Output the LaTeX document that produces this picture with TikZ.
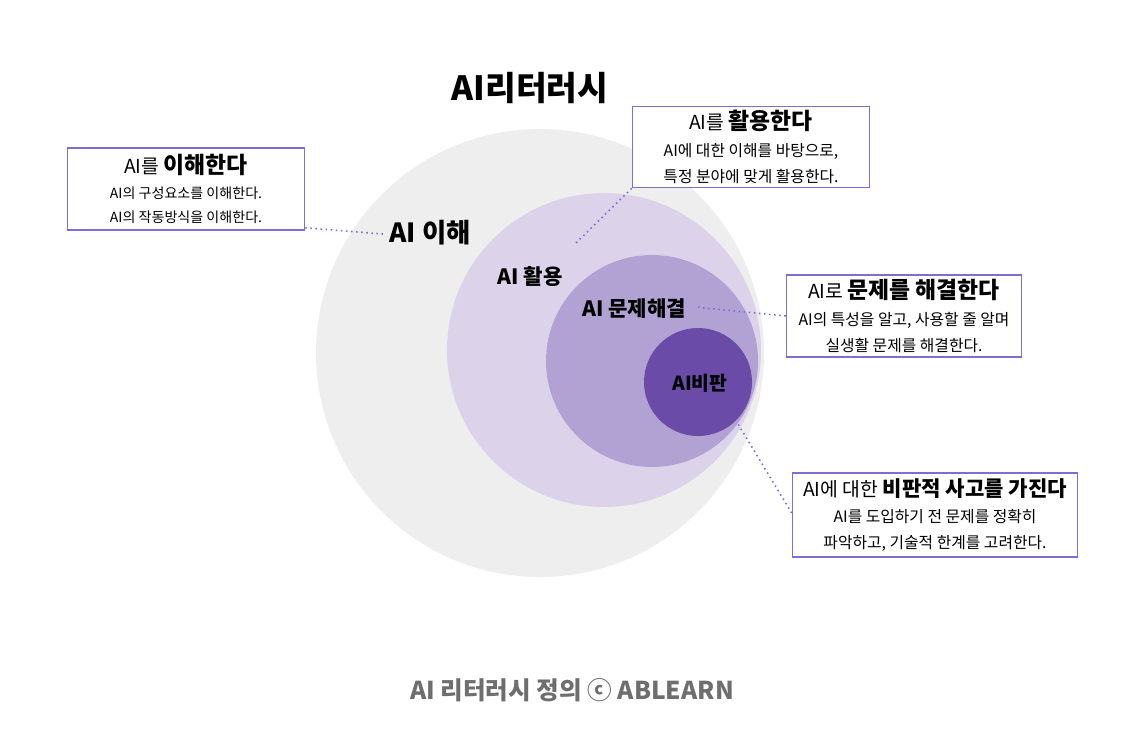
\documentclass[tikz,border=0pt]{standalone}
\usepackage{fontspec}
\setmainfont{Noto Sans CJK KR}
\definecolor{ringgray}{HTML}{EEEEEE}
\definecolor{ringlight}{HTML}{DCD3EA}
\definecolor{ringmid}{HTML}{B1A2D3}
\definecolor{ringdark}{HTML}{6A4BA8}
\definecolor{boxline}{HTML}{7B6FD6}
\definecolor{footgray}{HTML}{6E6E6E}
\begin{document}
\begin{tikzpicture}[x=0.02cm, y=-0.02cm,
  ring/.style={circle, draw=none, inner sep=0pt, minimum size={#1*0.02cm}},
  infobox/.style 2 args={draw=boxline, line width=0.9pt, fill=white, align=center, inner sep=0pt,
    minimum width={#1*0.02cm}, minimum height={#2*0.02cm}},
  lead/.style={draw=boxline, dotted, line width=0.9pt},
  ringlabel/.style={font=\bfseries}]
\useasboundingbox (0,0) rectangle (1145,738);

\node[ring=448, fill=ringgray] (cUse) at (540,353) {};
\node[ring=314, fill=ringlight] (cApply) at (604,350) {};
\node[ring=212, fill=ringmid] (cSolve) at (652,361) {};
\node[ring=108, fill=ringdark] (cCrit) at (698,382) {};

\node[font=\bfseries\fontsize{19}{22}\selectfont] (title) at (530,88) {AI리터러시};
\node[font=\fontsize{15}{18}\selectfont\bfseries] (lUse) at (430,233) {AI 이해};
\node[font=\fontsize{12}{14}\selectfont\bfseries] (lApply) at (530,277) {AI 활용};
\node[font=\fontsize{12}{14}\selectfont\bfseries] (lSolve) at (634,309) {AI 문제해결};
\node[font=\fontsize{11}{13}\selectfont\bfseries] (lCrit) at (700,383) {AI비판};

\node[infobox={237}{82}, font=\fontsize{8}{14}\selectfont] (bUse) at (186,189)
  {{\fontsize{11}{16}\selectfont AI를 \textbf{\fontsize{13}{16}\selectfont 이해한다}}\\AI의 구성요소를 이해한다.\\AI의 작동방식을 이해한다.};
\node[infobox={237}{81}, font=\fontsize{9}{15}\selectfont] (bApply) at (751,147)
  {{\fontsize{11}{16}\selectfont AI를 \textbf{\fontsize{13}{16}\selectfont 활용한다}}\\AI에 대한 이해를 바탕으로,\\특정 분야에 맞게 활용한다.};
\node[infobox={235}{82}, font=\fontsize{9}{15}\selectfont] (bSolve) at (904,316)
  {{\fontsize{11}{16}\selectfont AI로 \textbf{\fontsize{13}{16}\selectfont 문제를 해결한다}}\\AI의 특성을 알고, 사용할 줄 알며\\실생활 문제를 해결한다.};
\node[infobox={285}{84}, font=\fontsize{9}{15}\selectfont] (bCrit) at (935,515)
  {{\fontsize{11}{16}\selectfont AI에 대한 \textbf{\fontsize{12}{16}\selectfont 비판적 사고를 가진다}}\\AI를 도입하기 전 문제를 정확히\\파악하고, 기술적 한계를 고려한다.};

\coordinate (pUse) at (383,234);
\coordinate (pApply) at (575,244);
\coordinate (pSolve) at (695,307);
\coordinate (pCrit) at (738,424);
\draw[lead] (bUse.south east) ++(0,-3) -- (pUse);
\draw[lead] (bApply.south west) -- (pApply);
\draw[lead] (bSolve.west) -- (pSolve);
\draw[lead] (bCrit.west) ++(0,-2) -- (pCrit);

\node[font=\bfseries\fontsize{14}{17}\selectfont, text=footgray] (footer) at (572,690) {AI 리터러시 정의 ⓒ ABLEARN};
\end{tikzpicture}
\end{document}
